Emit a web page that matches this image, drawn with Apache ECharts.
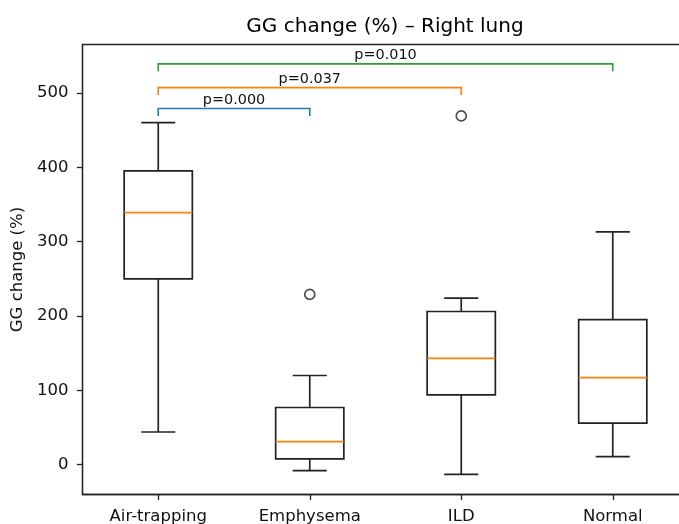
<!DOCTYPE html>
<html><head><meta charset="utf-8">
<script src="https://cdn.jsdelivr.net/npm/echarts@6/dist/echarts.min.js"></script>
<style>html,body{margin:0;padding:0;background:#fff}#c{width:679px;height:524px}</style>
</head><body><div id="c"></div>
<script>
const categories = ['Air-trapping', 'Emphysema', 'ILD', 'Normal'];
const whiskerLow = [44, -8, -13, 11];
const q1 = [250, 8, 94, 56];
const median = [339, 31, 143, 117];
const q3 = [395, 77, 206, 195];
const whiskerHigh = [460, 120, 224, 313];
const outliers = [[1, 229], [2, 469]];
const bracketFrom = [0, 0, 0];
const bracketTo = [1, 2, 3];
const bracketTop = [479, 507, 539];
const bracketBottom = [469, 497, 529];
const pLabels = ['p=0.000', 'p=0.037', 'p=0.010'];
const yTicks = [0, 100, 200, 300, 400, 500];

const FONT = 'DejaVu Sans';
const bracketColors = ['#1f77b4', '#ff7f0e', '#2ca02c'];

const boxData = categories.map((c, i) => [i, whiskerLow[i], q1[i], median[i], q3[i], whiskerHigh[i]]);
const bracketData = pLabels.map((p, i) => [bracketFrom[i], bracketTo[i], bracketTop[i], bracketBottom[i]]);

const chart = echarts.init(document.getElementById('c'), null, {renderer: 'canvas'});
chart.setOption({
  animation: false,
  backgroundColor: '#fff',
  title: {
    text: 'GG change (%) \u2013 Right lung',
    left: 385, top: 17, textAlign: 'center', padding: 0,
    textStyle: {fontFamily: FONT, fontSize: 20, fontWeight: 'normal', color: '#000'}
  },
  grid: {left: 82.5, top: 44.5, width: 606, height: 450, show: true, borderColor: '#222', borderWidth: 1.3, backgroundColor: 'transparent', containLabel: false, outerBoundsMode: 'none'},
  xAxis: {
    type: 'category', data: categories, boundaryGap: true,
    axisLine: {show: true, onZero: false, lineStyle: {color: '#222', width: 1.3}},
    axisTick: {show: true, alignWithLabel: true, length: 5.6, lineStyle: {color: '#222', width: 1.3}},
    axisLabel: {fontFamily: FONT, fontSize: 16.5, color: '#111', margin: 14},
    splitLine: {show: false}
  },
  yAxis: {
    type: 'value', min: -40, max: 565,
    name: 'GG change (%)', nameLocation: 'middle', nameGap: 53,
    nameTextStyle: {fontFamily: FONT, fontSize: 16.5, color: '#111'},
    axisLine: {show: true, onZero: false, lineStyle: {color: '#222', width: 1.3}},
    axisTick: {show: true, length: 5.6, customValues: yTicks, lineStyle: {color: '#222', width: 1.3}},
    axisLabel: {fontFamily: FONT, fontSize: 16.5, color: '#111', margin: 14, customValues: yTicks},
    splitLine: {show: false}
  },
  series: [
    {
      type: 'custom', data: boxData, clip: false,
      encode: {x: 0, y: [1, 2, 3, 4, 5]},
      renderItem: function (params, api) {
        const x = api.value(0);
        const band = api.size([1, 0])[0];
        const hw = band * 0.45 / 2, cw = hw / 2;
        const pL = api.coord([x, api.value(1)]);
        const p1 = api.coord([x, api.value(2)]);
        const pM = api.coord([x, api.value(3)]);
        const p3 = api.coord([x, api.value(4)]);
        const pH = api.coord([x, api.value(5)]);
        const cx = pL[0];
        const ls = {stroke: '#222', lineWidth: 1.7, fill: null};
        return {type: 'group', children: [
          {type: 'line', shape: {x1: cx, y1: pL[1], x2: cx, y2: p1[1]}, style: ls},
          {type: 'line', shape: {x1: cx, y1: p3[1], x2: cx, y2: pH[1]}, style: ls},
          {type: 'line', shape: {x1: cx - cw, y1: pL[1], x2: cx + cw, y2: pL[1]}, style: ls},
          {type: 'line', shape: {x1: cx - cw, y1: pH[1], x2: cx + cw, y2: pH[1]}, style: ls},
          {type: 'rect', shape: {x: cx - hw, y: p3[1], width: 2 * hw, height: p1[1] - p3[1]}, style: ls},
          {type: 'line', shape: {x1: cx - hw, y1: pM[1], x2: cx + hw, y2: pM[1]}, style: {stroke: '#ff7f0e', lineWidth: 1.7}}
        ]};
      }
    },
    {
      type: 'scatter', data: outliers, symbol: 'circle', symbolSize: 10,
      itemStyle: {color: 'rgba(0,0,0,0)', borderColor: '#222', borderWidth: 1.7}
    },
    {
      type: 'custom', data: bracketData, clip: false,
      encode: {x: [0, 1], y: [2, 3]},
      renderItem: function (params, api) {
        const a = api.value(0), b = api.value(1), top = api.value(2), bot = api.value(3);
        const pa = api.coord([a, top]), pb = api.coord([b, top]);
        const ba = api.coord([a, bot]), bb = api.coord([b, bot]);
        const col = bracketColors[params.dataIndex];
        return {type: 'group', children: [
          {type: 'polyline', shape: {points: [ba, pa, pb, bb]}, style: {stroke: col, lineWidth: 1.6, fill: null}},
          {type: 'text', x: (pa[0] + pb[0]) / 2, y: pa[1] - 1.5,
           style: {text: pLabels[params.dataIndex], fontFamily: FONT, fontSize: 14.4, fill: '#111', align: 'center', verticalAlign: 'bottom'}}
        ]};
      }
    }
  ]
});
</script>
</body></html>
